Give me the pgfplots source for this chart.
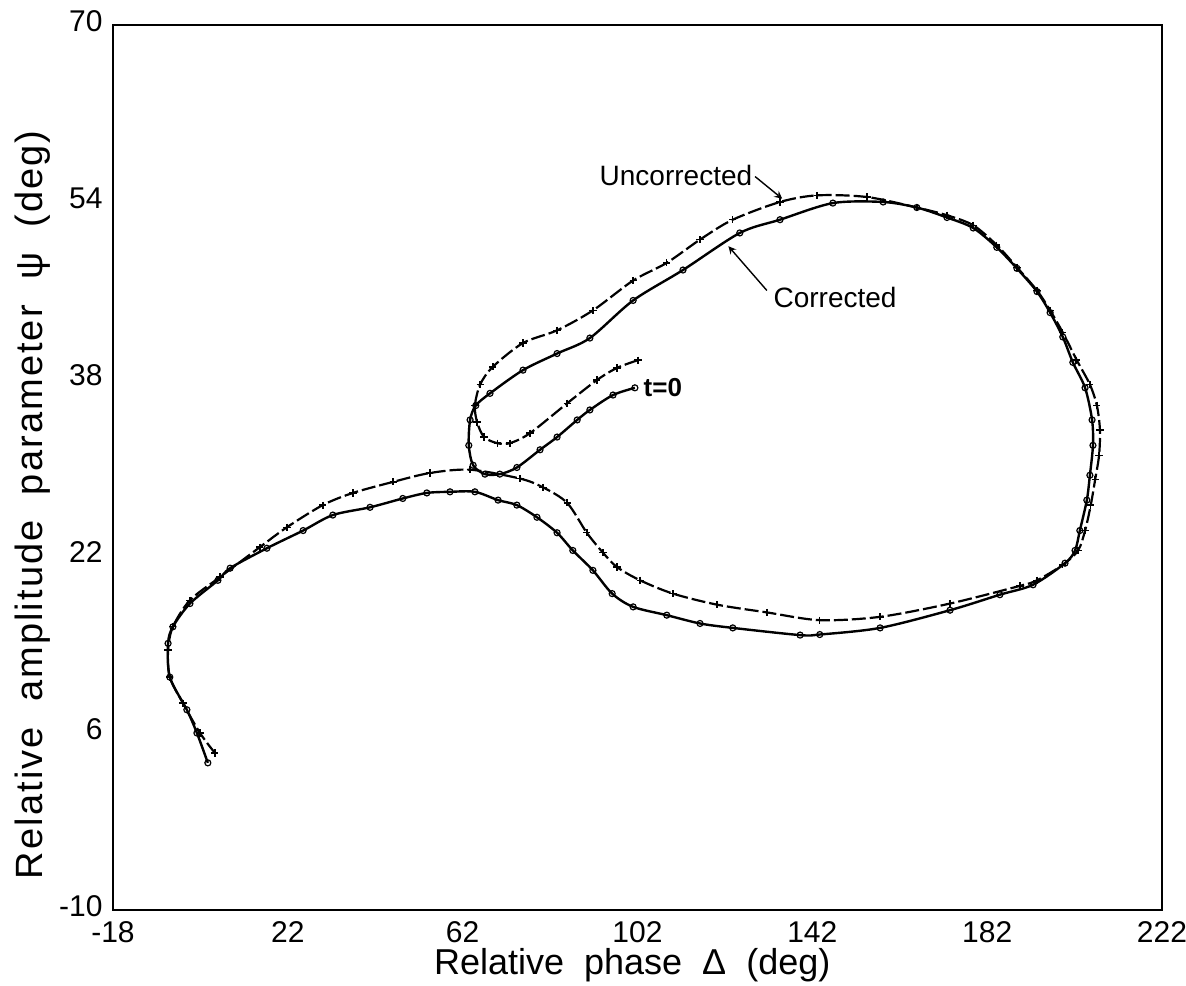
\documentclass[border=0pt]{standalone}
\usepackage{fontspec}
\setmainfont{Liberation Sans}
\usepackage{pgfplots}
\pgfplotsset{compat=1.18}
\begin{document}
\begin{tikzpicture}
\begin{axis}[
 scale only axis, width=524.5pt, height=442.5pt,
 xmin=-18, xmax=222, ymin=-10, ymax=70,
 xtick={-18,22,...,222}, ytick={-10,6,...,70},
 major tick length=0pt,
 axis line style={line width=0.9pt},
 /pgf/number format/assume math mode=true,
 ticklabel style={font=\fontsize{15}{18}\selectfont},
 xticklabel style={inner sep=0.5pt, yshift=-5pt},
 yticklabel style={inner sep=0.5pt, xshift=-4.5pt, yshift=2pt},
 clip=false,
]
% Uncorrected
\addplot[black, line width=1.1pt, smooth, tension=0.5, dash pattern=on 7pt off 2pt,
  mark=+, mark size=1.8pt, mark options={solid, line width=0.7pt}] coordinates {
(102.1,39.7) (97.3,39.0) (92.7,37.9) (85.9,35.8) (77.4,33.1) (72.8,32.2) (69.9,32.2)
(66.9,32.75) (65.3,34.1) (64.8,35.6) (66.0,37.5) (68.9,39.1) (75.8,41.25) (83.6,42.4)
(91.8,44.2) (101.0,46.9) (108.7,48.5) (116.3,50.6) (123.8,52.4) (134.6,54.0) (143.1,54.6)
(154.5,54.45) (165.9,53.5) (172.8,52.8) (178.8,51.9) (184.2,50.1) (188.8,48.1) (193.4,46.0)
(196.4,44.2) (199.3,42.2) (202.5,39.7) (205.5,37.5) (207.1,35.6) (207.8,33.4) (207.6,31.1)
(206.7,28.9) (205.7,26.6) (204.4,24.3) (202.8,22.5) (199.3,21.2) (193.4,19.8) (189.5,19.3)
(173.5,17.7) (157.5,16.5) (143.7,16.2) (131.6,16.9) (120.2,17.6) (110.1,18.6) (102.6,19.8)
(97.3,21.0) (94.1,22.3) (90.4,24.1) (85.9,26.8) (80.4,28.2) (75.1,29.0) (63.7,29.8)
(54.5,29.5) (46.1,28.7) (36.9,27.7) (30.0,26.6) (21.8,24.6) (15.6,22.8) (6.5,20.1)
(-0.4,18.0) (-4.3,15.6) (-5.4,13.5) (-5.0,11.05) (-2.0,8.7) (1.9,6.0) (5.3,4.2)
};
% Corrected
\addplot[black, line width=1.2pt, smooth, tension=0.5,
  mark=o, mark size=1.5pt, mark options={solid, fill=white, line width=0.6pt}] coordinates {
(101.4,37.2) (96.4,36.55) (91.1,35.2) (88.2,34.3) (83.6,32.75) (79.7,31.6) (74.4,30.0)
(70.5,29.4) (67.1,29.4) (64.4,30.2) (63.4,32.0) (63.7,34.3) (65.0,35.6) (68.25,36.7)
(75.8,38.8) (83.6,40.3) (91.1,41.7) (101.0,45.1) (112.4,47.85) (125.4,51.2) (134.6,52.4)
(146.7,53.9) (158.2,54.0) (165.9,53.5) (172.8,52.6) (178.8,51.65) (184.2,49.9) (188.8,48.0)
(193.4,45.9) (196.4,44.0) (199.3,41.8) (201.6,39.5) (204.4,37.2) (206.0,34.3) (206.2,32.0)
(205.5,29.3) (204.8,27.05) (203.2,24.3) (202.1,22.5) (199.8,21.35) (192.5,19.4) (184.9,18.5)
(173.5,17.1) (157.5,15.5) (143.7,14.9) (139.2,14.85) (123.8,15.5) (116.3,15.9) (108.7,16.65)
(101.0,17.4) (96.2,18.6) (91.8,20.7) (87.2,22.5) (83.6,24.1) (79.0,25.5) (74.4,26.6)
(70.1,27.05) (64.8,27.8) (59.1,27.8) (53.8,27.7) (48.3,27.2) (40.8,26.4) (32.3,25.7)
(25.5,24.3) (17.2,22.7) (8.8,20.9) (6.0,19.8) (-0.4,17.7) (-4.3,15.6) (-5.4,14.1)
(-5.0,11.05) (-1.1,8.1) (1.2,6.0) (3.7,3.3)
};
\node[font=\fontsize{14}{16}\selectfont] at (axis cs:110.8,56.4) {Uncorrected};
\draw[-stealth, line width=0.7pt] (axis cs:128.9,56.3) -- (axis cs:135.1,54.3);
\node[font=\fontsize{14}{16}\selectfont] at (axis cs:147.2,45.4) {Corrected};
\draw[-stealth, line width=0.7pt] (axis cs:131.6,46.0) -- (axis cs:122.8,50.0);
\node[font=\fontsize{13}{15}\selectfont\bfseries] at (axis cs:107.8,37.2) {t=0};
\node[font=\fontsize{18}{21}\selectfont, inner sep=0.5pt] at ([yshift=-27.8pt]rel axis cs:0.495,0) {Relative\ \ phase\ \ Δ\ \ (deg)};
\node[font=\fontsize{19}{22}\selectfont\addfontfeatures{LetterSpace=5.5}, rotate=90] at ([xshift=-40pt]rel axis cs:0,0.458) {Relative\ \ amplitude\ \ parameter\ \ ψ\ \ (deg)};
\coordinate (sw) at (rel axis cs:0,0);
\coordinate (ne) at (rel axis cs:1,1);
\end{axis}
\pgfresetboundingbox
\path ([shift={(-56.5pt,-38pt)}]sw) rectangle ([shift={(12pt,12.5pt)}]ne);
\end{tikzpicture}
\end{document}
